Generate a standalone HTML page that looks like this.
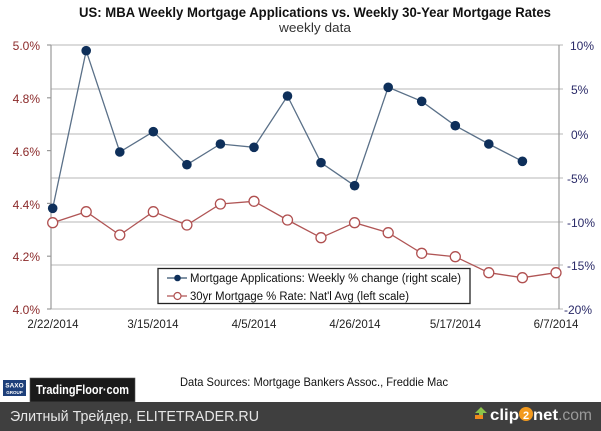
<!DOCTYPE html>
<html><head><meta charset="utf-8"><style>
html,body{margin:0;padding:0;background:#fff;}
svg{display:block;}
text{font-family:"Liberation Sans",sans-serif;}
</style></head><body>
<svg width="601" height="431" viewBox="0 0 601 431" xmlns="http://www.w3.org/2000/svg">
<rect width="601" height="431" fill="#fff"/>
<!-- title -->
<text x="315" y="17" text-anchor="middle" font-size="13.5" font-weight="bold" fill="#111" textLength="472" lengthAdjust="spacingAndGlyphs">US:  MBA Weekly  Mortgage Applications vs.  Weekly  30-Year Mortgage Rates</text>
<text x="315" y="32" text-anchor="middle" font-size="13" fill="#333" textLength="72" lengthAdjust="spacingAndGlyphs">weekly data</text>
<!-- gridlines -->
<g stroke="#cfcfcf" stroke-width="1.5">
<line x1="51" y1="45" x2="563" y2="45"/>
<line x1="51" y1="89" x2="563" y2="89"/>
<line x1="51" y1="134" x2="563" y2="134"/>
<line x1="51" y1="178" x2="563" y2="178"/>
<line x1="51" y1="222" x2="563" y2="222"/>
<line x1="51" y1="265" x2="563" y2="265"/>
<line x1="51" y1="309" x2="563" y2="309"/>
</g>
<!-- axes -->
<g stroke="#9a9a9a" stroke-width="1.2">
<line x1="51" y1="45" x2="51" y2="309"/>
<line x1="559" y1="45" x2="559" y2="309"/>
<line x1="47" y1="45" x2="51" y2="45"/>
<line x1="47" y1="97.8" x2="51" y2="97.8"/>
<line x1="47" y1="150.6" x2="51" y2="150.6"/>
<line x1="47" y1="203.4" x2="51" y2="203.4"/>
<line x1="47" y1="256.2" x2="51" y2="256.2"/>
<line x1="47" y1="309" x2="51" y2="309"/>
</g>
<!-- left labels -->
<g font-size="12" fill="#8b2a2a" text-anchor="end">
<text x="40" y="50">5.0%</text>
<text x="40" y="103">4.8%</text>
<text x="40" y="156">4.6%</text>
<text x="40" y="209">4.4%</text>
<text x="40" y="261">4.2%</text>
<text x="40" y="314">4.0%</text>
</g>
<!-- right labels -->
<g font-size="12" fill="#2a2a68">
<text x="570" y="50">10%</text>
<text x="571" y="94">5%</text>
<text x="571" y="139">0%</text>
<text x="567" y="183">-5%</text>
<text x="567" y="227">-10%</text>
<text x="567" y="270">-15%</text>
<text x="564" y="314">-20%</text>
</g>
<!-- x labels -->
<g font-size="11.5" fill="#222" text-anchor="middle">
<text x="53" y="328">2/22/2014</text>
<text x="153" y="328">3/15/2014</text>
<text x="254" y="328">4/5/2014</text>
<text x="355" y="328">4/26/2014</text>
<text x="455.5" y="328">5/17/2014</text>
<text x="556" y="328">6/7/2014</text>
</g>
<!-- red series -->
<polyline fill="none" stroke="#b05555" stroke-width="1.3" points="52.7,222.7 86.2,211.7 119.8,235 153.3,211.7 186.9,225 220.4,204 254,201.3 287.5,220 321,237.7 354.6,222.7 388.2,232.7 421.7,253.3 455.3,256.7 488.8,272.7 522.4,277.7 556,272.7"/>
<g fill="#fff" stroke="#b05050" stroke-width="1.3">
<circle cx="52.7" cy="222.7" r="5"/><circle cx="86.2" cy="211.7" r="5"/><circle cx="119.8" cy="235" r="5"/><circle cx="153.3" cy="211.7" r="5"/><circle cx="186.9" cy="225" r="5"/><circle cx="220.4" cy="204" r="5"/><circle cx="254" cy="201.3" r="5"/><circle cx="287.5" cy="220" r="5"/><circle cx="321" cy="237.7" r="5"/><circle cx="354.6" cy="222.7" r="5"/><circle cx="388.2" cy="232.7" r="5"/><circle cx="421.7" cy="253.3" r="5"/><circle cx="455.3" cy="256.7" r="5"/><circle cx="488.8" cy="272.7" r="5"/><circle cx="522.4" cy="277.7" r="5"/><circle cx="556" cy="272.7" r="5"/>
</g>
<!-- blue series -->
<polyline fill="none" stroke="#5a7088" stroke-width="1.3" points="52.7,208.3 86.2,50.7 119.8,152 153.3,131.7 186.9,164.7 220.4,144 254,147.3 287.5,96 321,162.7 354.6,185.7 388.2,87.3 421.7,101.3 455.3,125.7 488.8,144 522.4,161.3"/>
<g fill="#0e2f5a">
<circle cx="52.7" cy="208.3" r="4.8"/><circle cx="86.2" cy="50.7" r="4.8"/><circle cx="119.8" cy="152" r="4.8"/><circle cx="153.3" cy="131.7" r="4.8"/><circle cx="186.9" cy="164.7" r="4.8"/><circle cx="220.4" cy="144" r="4.8"/><circle cx="254" cy="147.3" r="4.8"/><circle cx="287.5" cy="96" r="4.8"/><circle cx="321" cy="162.7" r="4.8"/><circle cx="354.6" cy="185.7" r="4.8"/><circle cx="388.2" cy="87.3" r="4.8"/><circle cx="421.7" cy="101.3" r="4.8"/><circle cx="455.3" cy="125.7" r="4.8"/><circle cx="488.8" cy="144" r="4.8"/><circle cx="522.4" cy="161.3" r="4.8"/>
</g>
<!-- legend -->
<rect x="158" y="268.5" width="312" height="35" fill="#fff" stroke="#222" stroke-width="1.3"/>
<line x1="167" y1="278" x2="187" y2="278" stroke="#34506e" stroke-width="1.3"/>
<circle cx="177.5" cy="278" r="3.3" fill="#0e2f5a"/>
<line x1="167" y1="296" x2="187" y2="296" stroke="#b05555" stroke-width="1.3"/>
<circle cx="177.5" cy="296" r="3.5" fill="#fff" stroke="#b05050" stroke-width="1.2"/>
<g font-size="11.5" fill="#111">
<text x="190" y="282" textLength="271" lengthAdjust="spacingAndGlyphs">Mortgage Applications: Weekly % change (right scale)</text>
<text x="190" y="300" textLength="219" lengthAdjust="spacingAndGlyphs">30yr Mortgage % Rate: Nat'l Avg (left scale)</text>
</g>
<!-- data sources -->
<text x="180" y="386" font-size="12" fill="#111" textLength="268" lengthAdjust="spacingAndGlyphs">Data Sources: Mortgage Bankers Assoc., Freddie Mac</text>
<!-- saxo logo -->
<rect x="3" y="380" width="23" height="16" fill="#1d3f7a"/>
<text x="14.5" y="387.5" font-size="6.5" font-weight="bold" fill="#fff" text-anchor="middle">SAXO</text>
<text x="14.5" y="394" font-size="4.5" font-weight="bold" fill="#fff" text-anchor="middle">GROUP</text>
<rect x="30" y="378" width="105" height="24" fill="#1a1a1a" stroke="#555" stroke-width="0.6"/>
<text x="36" y="394" font-size="12.5" font-weight="bold" fill="#fff" textLength="93" lengthAdjust="spacingAndGlyphs">TradingFloor·com</text>
<!-- footer -->
<rect x="0" y="402" width="601" height="29" fill="#3f3f3f"/>
<text x="10" y="421" font-size="14.5" fill="#e6e6e6" textLength="249" lengthAdjust="spacingAndGlyphs">Элитный Трейдер, ELITETRADER.RU</text>
<!-- clip2net -->
<polygon points="481,407 475,413 479,413 479,419 483,419 483,413 487,413" fill="#8bc34a"/>
<rect x="475" y="415" width="8" height="4" fill="#f08a1c"/>
<text x="490" y="420" font-size="16" font-weight="bold" fill="#fff" textLength="29" lengthAdjust="spacingAndGlyphs">clip</text>
<circle cx="526" cy="414" r="7" fill="#f39a1e"/>
<text x="526" y="419" font-size="11" font-weight="bold" fill="#fff" text-anchor="middle">2</text>
<text x="533" y="420" font-size="16" font-weight="bold" fill="#fff" textLength="25" lengthAdjust="spacingAndGlyphs">net</text>
<text x="558" y="420" font-size="16" fill="#9a9a9a" textLength="34" lengthAdjust="spacingAndGlyphs">.com</text>
</svg>
</body></html>
